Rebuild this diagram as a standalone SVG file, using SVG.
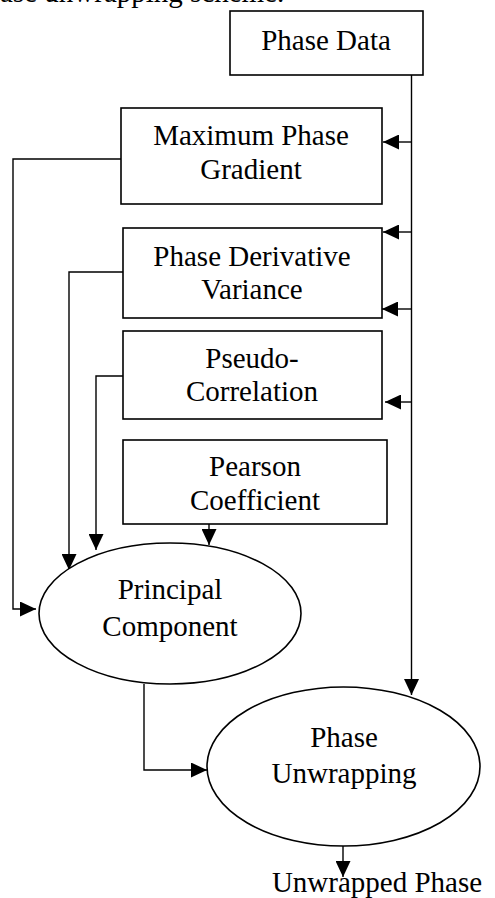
<svg xmlns="http://www.w3.org/2000/svg" width="495" height="898" viewBox="0 0 495 898">
<style>
text{font-family:"Liberation Serif","Times New Roman",serif;font-size:29px;fill:#000;text-anchor:middle}
.box{fill:#fff;stroke:#000;stroke-width:1.6}
.conn{fill:none;stroke:#000;stroke-width:1.4}
</style>
<defs>
<marker id="ah" markerUnits="userSpaceOnUse" markerWidth="16" markerHeight="15" refX="16" refY="7.5" orient="auto">
<path d="M0,0 L16,7.5 L0,15 z" fill="#000"/>
</marker>
</defs>
<text x="0" y="2" style="text-anchor:start">ase unwrapping scheme.</text>
<g id="connectors">
<polyline class="conn" points="411.5,72 411.5,695" marker-end="url(#ah)"/>
<line class="conn" x1="411.5" y1="142" x2="383" y2="142" marker-end="url(#ah)"/>
<line class="conn" x1="411.5" y1="232" x2="383" y2="232" marker-end="url(#ah)"/>
<line class="conn" x1="411.5" y1="309" x2="382" y2="309" marker-end="url(#ah)"/>
<line class="conn" x1="411.5" y1="402" x2="385" y2="402" marker-end="url(#ah)"/>
<polyline class="conn" points="121,159 13,159 13,609 36,609" marker-end="url(#ah)"/>
<polyline class="conn" points="123,272 69,272 69,570" marker-end="url(#ah)"/>
<polyline class="conn" points="123,376 96,376 96,550" marker-end="url(#ah)"/>
<line class="conn" x1="209" y1="524" x2="209" y2="545" marker-end="url(#ah)"/>
<polyline class="conn" points="144,684 144,770 207,770" marker-end="url(#ah)"/>
<line class="conn" x1="343" y1="846" x2="343" y2="877" marker-end="url(#ah)"/>
</g>
<g id="phase-data">
<rect class="box" x="230" y="11" width="193" height="64"/>
<text x="326" y="50">Phase Data</text>
</g>
<g id="max-phase-gradient">
<rect class="box" x="121" y="108" width="261" height="96"/>
<text x="251" y="145">Maximum Phase</text>
<text x="251" y="179">Gradient</text>
</g>
<g id="phase-derivative-variance">
<rect class="box" x="123" y="228" width="259" height="90"/>
<text x="252" y="266">Phase Derivative</text>
<text x="252" y="299">Variance</text>
</g>
<g id="pseudo-correlation">
<rect class="box" x="123" y="331" width="259" height="88"/>
<text x="252" y="368">Pseudo-</text>
<text x="252" y="401">Correlation</text>
</g>
<g id="pearson-coefficient">
<rect class="box" x="123" y="440" width="264" height="84"/>
<text x="255" y="476">Pearson</text>
<text x="255" y="510">Coefficient</text>
</g>
<g id="principal-component">
<ellipse class="box" cx="170" cy="613.5" rx="131" ry="70.5"/>
<text x="170" y="599">Principal</text>
<text x="170" y="636">Component</text>
</g>
<g id="phase-unwrapping">
<ellipse class="box" cx="343.5" cy="766.5" rx="136.5" ry="79.5"/>
<text x="344" y="747">Phase</text>
<text x="344" y="783">Unwrapping</text>
</g>
<g id="unwrapped-phase">
<text x="377" y="892">Unwrapped Phase</text>
</g>
</svg>
